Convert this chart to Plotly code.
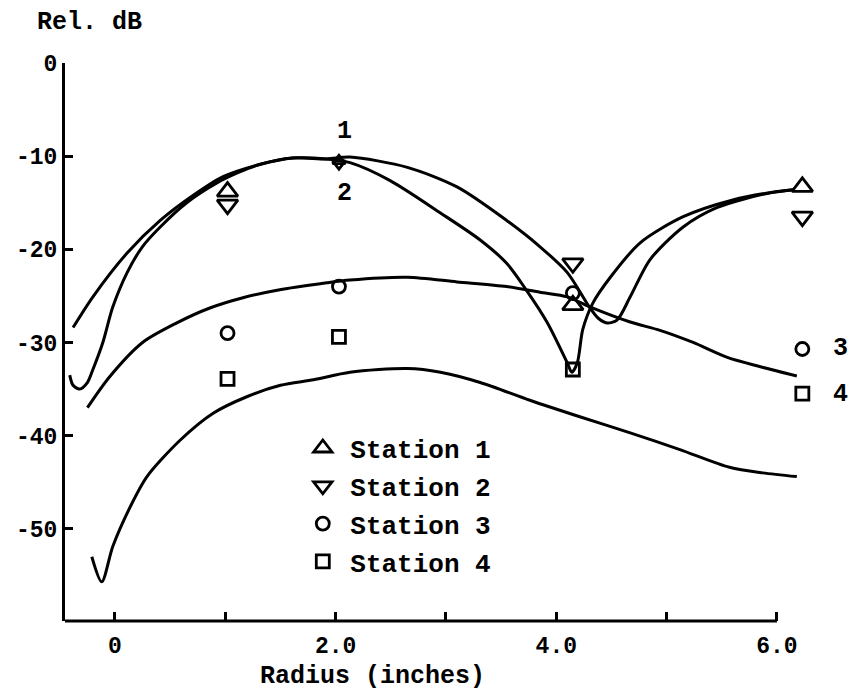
import plotly.graph_objects as go

# Measured levels at each radius (inches)
radius = [1.02, 2.03, 4.15, 6.23]
station1 = [-13.8, -10.5, -26.0, -13.3]
station2 = [-15.2, -10.8, -21.5, -16.5]
station3 = [-29.0, -24.0, -24.7, -30.7]
station4 = [-33.9, -29.4, -32.9, -35.5]

# Computed response curves
curve1_x = [-0.38, -0.20, 0.11, 0.41, 0.71, 0.98, 1.31, 1.61, 1.92, 2.13, 2.65, 3.10,
            3.55, 3.85, 4.10, 4.30, 4.38, 4.46, 4.55, 4.67, 4.85, 5.15, 5.46, 5.91, 6.15]
curve1_y = [-28.4, -25.1, -20.4, -16.9, -14.2, -12.2, -10.9, -10.2, -10.3, -10.1, -11.2, -13.3,
            -16.9, -19.7, -22.5, -26.2, -27.4, -27.9, -27.6, -25.1, -21.1, -17.6, -15.5, -14.0, -13.6]

curve2_x = [-0.41, -0.38, -0.32, -0.25, -0.20, -0.11, -0.02, 0.11, 0.25, 0.41, 0.65, 0.92,
            1.13, 1.31, 1.61, 1.92, 2.13, 2.49, 2.95, 3.31, 3.55, 3.73, 3.92, 4.10, 4.14,
            4.19, 4.24, 4.33, 4.49, 4.76, 5.15, 5.60, 6.00, 6.15]
curve2_y = [-33.5, -34.6, -35.0, -34.3, -32.9, -30.0, -26.2, -22.5, -19.7, -17.6, -15.0, -12.9,
            -11.7, -10.9, -10.2, -10.3, -10.7, -12.6, -16.1, -19.0, -21.5, -24.4, -27.9, -32.2, -33.2,
            -32.2, -28.6, -25.8, -23.0, -19.3, -16.5, -14.7, -13.8, -13.6]

curve3_x = [-0.25, -0.05, 0.25, 0.56, 0.86, 1.16, 1.47, 1.92, 2.13, 2.65, 3.10, 3.55,
            3.85, 4.10, 4.31, 4.67, 4.94, 5.24, 5.55, 5.85, 6.18]
curve3_y = [-37.0, -33.7, -30.0, -27.9, -26.3, -25.2, -24.4, -23.6, -23.3, -23.0, -23.5, -24.0,
            -24.6, -25.1, -26.2, -27.8, -28.7, -30.0, -31.6, -32.6, -33.6]

curve4_x = [-0.21, -0.12, -0.02, 0.14, 0.29, 0.59, 0.89, 1.20, 1.50, 1.80, 2.13, 2.65,
            2.95, 3.31, 3.76, 4.22, 4.67, 5.12, 5.57, 5.87, 6.18]
curve4_y = [-53.0, -55.7, -51.9, -47.6, -44.4, -40.5, -37.6, -35.8, -34.6, -34.0, -33.2, -32.8,
            -33.2, -34.3, -36.2, -38.0, -39.7, -41.5, -43.4, -44.0, -44.4]

y_ticks = [0, -10, -20, -30, -40, -50]
y_tick_text = ["0", "-10", "-20", "-30", "-40", "-50"]
x_ticks = [0, 1, 2, 3, 4, 5, 6]
x_tick_text = ["0", "", "2.0", "", "4.0", "", "6.0"]

FONT = "Liberation Mono"
INK = "black"

fig = go.Figure()

for cx, cy in [(curve1_x, curve1_y), (curve2_x, curve2_y),
               (curve3_x, curve3_y), (curve4_x, curve4_y)]:
    fig.add_trace(go.Scatter(
        x=cx, y=cy, mode="lines", showlegend=False, hoverinfo="skip",
        line=dict(color=INK, width=3, shape="spline", smoothing=0.8),
    ))

markers = [
    ("Station 1", station1, "triangle-up-open", [18, 11, 18, 18]),
    ("Station 2", station2, "triangle-down-open", [18, 11, 18, 18]),
    ("Station 3", station3, "circle-open", 13),
    ("Station 4", station4, "square-open", 13),
]
for i, (name, vals, sym, size) in enumerate(markers):
    fig.add_trace(go.Scatter(
        x=radius, y=vals, mode="markers", name=name, legendgroup=f"g{i}",
        marker=dict(symbol=sym, size=size, color=INK, opacity=1,
                    line=dict(color=INK, width=2.8)),
    ))

tick_font = dict(family=FONT, size=23, color=INK, weight="bold")
text_font = dict(family=FONT, size=25, color=INK, weight="bold")
legend_font = dict(family=FONT, size=26, color=INK, weight="bold")

fig.update_layout(
    width=851, height=696,
    margin=dict(l=65, r=0, t=63, b=75),
    paper_bgcolor="white", plot_bgcolor="white",
    xaxis=dict(
        range=[-0.453, 6.671], showline=False, showgrid=False, zeroline=False,
        ticks="inside", ticklen=9, tickwidth=2.5, tickcolor=INK,
        tickvals=x_ticks, ticktext=x_tick_text, tickfont=tick_font,
        ticklabelstandoff=8,
    ),
    yaxis=dict(
        range=[-59.9, 0], showline=True, linewidth=3, linecolor=INK,
        showgrid=False, zeroline=False,
        ticks="inside", ticklen=8, tickwidth=2.5, tickcolor=INK,
        tickvals=y_ticks, ticktext=y_tick_text, tickfont=tick_font,
    ),
    legend=dict(
        x=0.293, y=0.352, xanchor="left", yanchor="top", itemwidth=45,
        font=legend_font, bgcolor="rgba(0,0,0,0)", tracegroupgap=1,
    ),
    showlegend=True,
)

# Bottom axis line, ending at 6.0
fig.add_shape(type="line", xref="x", yref="paper", x0=-0.453, x1=6.0, y0=0, y1=0,
              line=dict(color=INK, width=3))

fig.add_annotation(text="Rel. dB", xref="paper", yref="paper", x=-0.038, y=1.072,
                   xanchor="left", yanchor="middle", showarrow=False, font=text_font)
fig.add_annotation(text="Radius (inches)", xref="paper", yref="paper", x=0.2455, y=-0.100,
                   xanchor="left", yanchor="middle", showarrow=False, font=text_font)

# Curve identifiers
for label, lx, ly in [("1", 2.08, -7.4), ("2", 2.08, -14.0), ("3", 6.58, -30.7), ("4", 6.58, -35.6)]:
    fig.add_annotation(text=label, x=lx, y=ly, xref="x", yref="y", showarrow=False,
                       font=text_font)

fig.write_html("out.html")
